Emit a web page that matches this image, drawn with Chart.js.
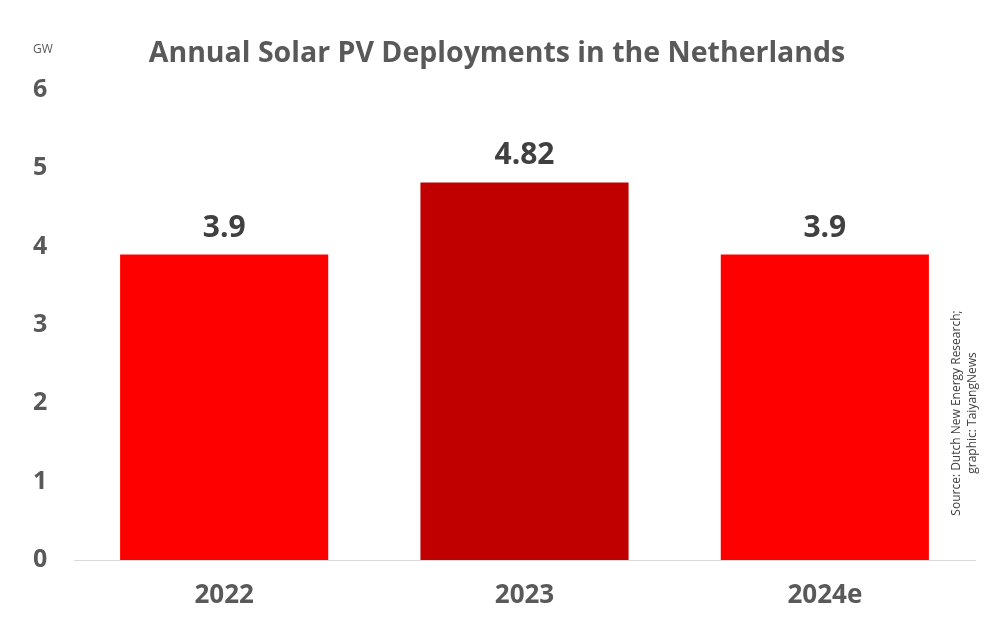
<!DOCTYPE html>
<html>
<head>
<meta charset="utf-8">
<script src="https://cdn.jsdelivr.net/npm/chart.js@4.4.0/dist/chart.umd.min.js"></script>
<style>
html,body{margin:0;padding:0;background:#fff;}
#wrap{width:1000px;height:640px;position:relative;}
</style>
</head>
<body>
<div id="wrap"><canvas id="c" width="1000" height="640"></canvas></div>
<script>
const categories = ['2022', '2023', '2024e'];
const values = [3.9, 4.82, 3.9];
const valueLabels = ['3.9', '4.82', '3.9'];
const barColors = ['#FF0000', '#C00000', '#FF0000'];
const yTicks = [0, 1, 2, 3, 4, 5, 6];
const titleText = 'Annual Solar PV Deployments in the Netherlands';
const unitText = 'GW';
const sourceLines = ['Source: Dutch New Energy Research;', 'graphic: TaiyangNews'];

const FONT = '"Open Sans", "DejaVu Sans", sans-serif';

const decor = {
  id: 'decor',
  afterDatasetsDraw(chart) {
    const ctx = chart.ctx;
    const meta = chart.getDatasetMeta(0);
    ctx.save();
    ctx.fillStyle = '#404040';
    ctx.font = 'bold 30px ' + FONT;
    ctx.textAlign = 'center';
    ctx.textBaseline = 'alphabetic';
    meta.data.forEach((bar, i) => {
      ctx.fillText(valueLabels[i], bar.x, bar.y - 18);
    });
    ctx.restore();
  },
  afterDraw(chart) {
    const ctx = chart.ctx;
    ctx.save();
    // title
    ctx.fillStyle = '#595959';
    ctx.font = 'bold 28.5px ' + FONT;
    ctx.textAlign = 'center';
    ctx.textBaseline = 'alphabetic';
    ctx.fillText(titleText, 497, 62);
    // unit
    ctx.font = '12px ' + FONT;
    ctx.textAlign = 'left';
    ctx.fillText(unitText, 33, 53);
    // source rotated
    ctx.fillStyle = '#404040';
    ctx.font = '12px ' + FONT;
    ctx.textAlign = 'center';
    ctx.textBaseline = 'middle';
    const xs = [957, 973];
    sourceLines.forEach((t, i) => {
      ctx.save();
      ctx.translate(xs[i], 413);
      ctx.rotate(-Math.PI / 2);
      ctx.fillText(t, 0, 0);
      ctx.restore();
    });
    ctx.restore();
  }
};

new Chart(document.getElementById('c'), {
  type: 'bar',
  data: {
    labels: categories,
    datasets: [{
      data: values,
      backgroundColor: barColors,
      borderWidth: 0,
      categoryPercentage: 1.0,
      barPercentage: 0.693
    }]
  },
  options: {
    responsive: false,
    animation: false,
    devicePixelRatio: 1,
    layout: { padding: { left: 33, right: 25, top: 90, bottom: 0 } },
    plugins: {
      legend: { display: false },
      title: { display: false },
      tooltip: { enabled: false }
    },
    scales: {
      x: {
        grid: { display: false, drawTicks: false },
        border: { display: true, color: '#d9d9d9', width: 1 },
        ticks: {
          color: '#595959',
          font: { family: FONT, size: 26, weight: 'bold' },
          padding: 20
        },
        afterFit(scale) { scale.height = 80; }
      },
      y: {
        min: 0,
        max: 6,
        afterBuildTicks(scale) { scale.ticks = yTicks.map(v => ({ value: v })); },
        grid: { display: false, drawTicks: false },
        border: { display: false },
        ticks: {
          color: '#595959',
          font: { family: FONT, size: 25, weight: 'bold' },
          crossAlign: 'far',
          padding: 0
        },
        afterFit(scale) { scale.width = 41; }
      }
    }
  },
  plugins: [decor]
});
</script>
</body>
</html>
